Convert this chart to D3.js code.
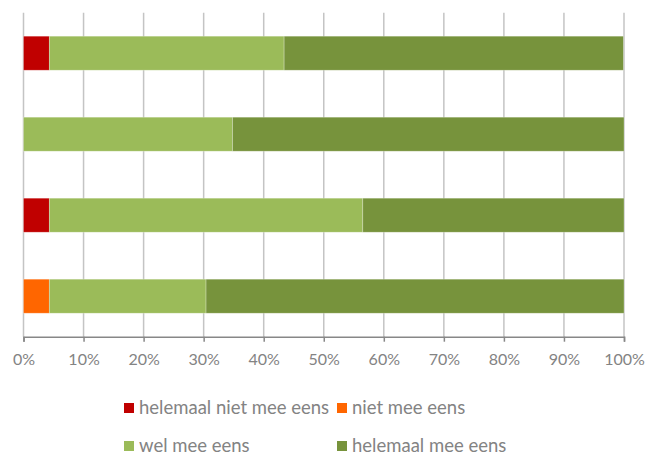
<!DOCTYPE html>
<html>
<head>
<meta charset="utf-8">
<script src="https://cdn.jsdelivr.net/npm/d3@7"></script>
<style>
  body { margin: 0; background: #fff; }
  text { font-family: Lato, "Open Sans", sans-serif; }
</style>
</head>
<body>
<script>
// rijen (van boven naar onder)
const rows = ['r1', 'r2', 'r3', 'r4']
const series = ['helemaal niet mee eens', 'niet mee eens', 'wel mee eens', 'helemaal mee eens']
const colors = ['#C00000', '#FF6600', '#9BBB59', '#77933C']

// percentages per serie
const helemaalNiet = [4.3, 0, 4.3, 0]
const niet = [0, 0, 0, 4.3]
const wel = [39.1, 34.8, 52.2, 26.1]
const helemaal = [56.5, 65.2, 43.5, 69.6]

const ticks = [0, 10, 20, 30, 40, 50, 60, 70, 80, 90, 100]

const table = rows.map((r, i) => ({
    row: r,
    [series[0]]: helemaalNiet[i],
    [series[1]]: niet[i],
    [series[2]]: wel[i],
    [series[3]]: helemaal[i]
}))

const width = 651, height = 453
const svg = d3.select('body').append('svg')
    .attr('width', width)
    .attr('height', height)

const x = d3.scaleLinear().domain([0, 100]).range([23.5, 624])
const y = d3.scaleBand().domain(rows).range([12.7, 336.7]).paddingInner(0.58).paddingOuter(0.29)

// rasterlijnen
svg.append('g')
    .selectAll('line')
    .data(ticks)
    .enter()
    .append('line')
    .attr('x1', d => x(d))
    .attr('x2', d => x(d))
    .attr('y1', 12.7)
    .attr('y2', 336.7)
    .attr('stroke', '#c4c4c4')
    .attr('stroke-width', 1.5)

// gestapelde balken
const stack = d3.stack().keys(series)(table)
svg.append('g')
    .selectAll('g')
    .data(stack)
    .enter()
    .append('g')
    .attr('fill', (d, i) => colors[i])
    .selectAll('rect')
    .data(d => d.filter(p => p[1] - p[0] > 0))
    .enter()
    .append('rect')
    .attr('x', d => x(d[0]))
    .attr('width', d => x(d[1]) - x(d[0]))
    .attr('y', d => y(d.data.row))
    .attr('height', y.bandwidth())
    .attr('stroke', '#ffffff')
    .attr('stroke-opacity', 0.35)
    .attr('stroke-width', 0.75)

// x-as
const axis = svg.append('g')
    .attr('transform', 'translate(0,336.7)')
    .call(d3.axisBottom(x).tickValues(ticks).tickSize(5).tickPadding(12).tickFormat(d => d + '%'))
axis.select('.domain').attr('stroke', '#878787').attr('stroke-width', 1.5)
axis.selectAll('.tick line').attr('stroke', '#878787').attr('stroke-width', 1.5)
axis.selectAll('.tick text')
    .attr('fill', '#838383')
    .attr('font-size', 16)
    .attr('font-family', 'Lato, sans-serif')

// legenda
const legendPos = [[124, 403], [337, 403], [124, 441], [337, 441]]
const legend = svg.append('g')
    .selectAll('g')
    .data(series)
    .enter()
    .append('g')
    .attr('transform', (d, i) => 'translate(' + legendPos[i][0] + ',' + legendPos[i][1] + ')')
legend.append('rect')
    .attr('width', 10)
    .attr('height', 10)
    .attr('fill', (d, i) => colors[i])
legend.append('text')
    .attr('x', 15)
    .attr('y', 11.3)
    .attr('fill', '#838383')
    .attr('font-size', 18.5)
    .text(d => d)
</script>
</body>
</html>
